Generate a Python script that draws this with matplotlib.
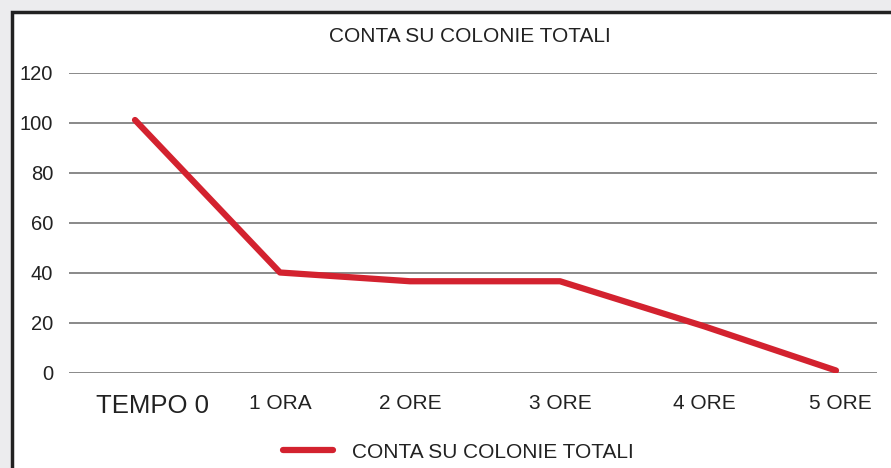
import matplotlib
matplotlib.use("Agg")
import matplotlib.pyplot as plt
from matplotlib.patches import Rectangle

categories = ["TEMPO 0", "1 ORA", "2 ORE", "3 ORE", "4 ORE", "5 ORE"]
values = [101, 40, 36.5, 36.5, 18.5, 0.8]
series_name = "CONTA SU COLONIE TOTALI"
y_ticks = [0, 20, 40, 60, 80, 100, 120]

# layout: horizontal placement of points and labels (pixel-like axis units)
point_pos = [135, 280, 410, 560, 704, 836]
label_pos = [152, 280, 410, 560, 704, 840]

plt.rcParams['font.family'] = ['Liberation Sans', 'DejaVu Sans']
W, H = 891, 468
FS = 15
fig = plt.figure(figsize=(W / 100, H / 100), dpi=100)
fig.patch.set_facecolor('#ececee')

# white panel with dark border
fig.patches.append(Rectangle((11.5 / W, -0.2), 1.2, 1.2 - 11.5 / H,
                             transform=fig.transFigure, facecolor='white',
                             edgecolor='#222222', linewidth=2.5, zorder=-10))

ax = fig.add_axes([69 / W, 1 - 372.5 / H, (877 - 69) / W, 300 / H])
ax.set_zorder(5)
ax.set_xlim(69, 877)
ax.set_ylim(0, 120)
ax.set_facecolor('none')
for s in ax.spines.values():
    s.set_visible(False)
for t in y_ticks:
    ax.axhline(t, color='#808080', linewidth=1.3, zorder=1)

line, = ax.plot(point_pos, values, color='#d3222f', linewidth=4.5,
                solid_capstyle='round', solid_joinstyle='round', zorder=3,
                label=series_name)

ax.set_yticks(y_ticks)
ax.set_yticklabels([str(t) for t in y_ticks], fontsize=14.5, color='#222222')
ax.tick_params(axis='y', length=0, pad=11.5)
ax.set_xticks([])
for i, (c, xp) in enumerate(zip(categories, label_pos)):
    ax.text(xp, -8.5, c, ha='center', va='top',
            fontsize=18.5 if i == 0 else FS, color='#222222')

fig.text(470 / W, 1 - 36 / H, series_name, ha='center', va='center',
         fontsize=FS, color='#222222')

fig.legend(handles=[line], loc='center', bbox_to_anchor=(458 / W, 1 - 452 / H),
           frameon=False, fontsize=FS, handlelength=2.4, handletextpad=0.9,
           labelcolor='#222222')

fig.savefig('out.png', dpi=100, facecolor=fig.get_facecolor())
